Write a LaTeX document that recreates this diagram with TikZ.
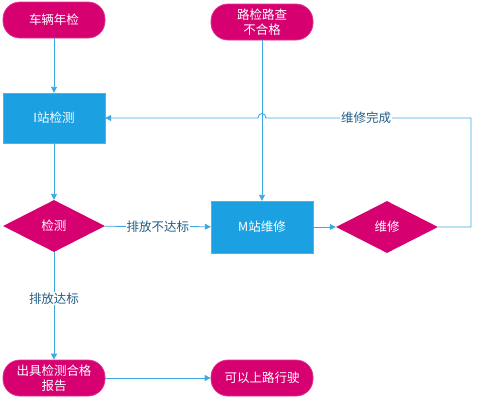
\documentclass[tikz,border=0pt]{standalone}
\usepackage{fontspec}
\setmainfont{Noto Sans CJK SC}
\usetikzlibrary{arrows.meta,shapes.geometric}
\definecolor{mag}{RGB}{214,0,112}
\definecolor{boxblue}{RGB}{27,161,226}
\definecolor{linkblue}{RGB}{60,170,225}
\definecolor{lbl}{RGB}{35,95,135}
\tikzset{
  pill/.style={draw=mag!80!white, line width=0.8pt, fill=mag, text=white, rounded corners=17pt, minimum width=102pt, minimum height=36pt, inner sep=0pt, align=center, font=\fontsize{12.5}{15}\selectfont},
  sbox/.style={draw=boxblue!80!white, fill=boxblue, text=white, minimum width=102pt, minimum height=50pt, inner sep=0pt, font=\fontsize{12.5}{15}\selectfont},
  dia/.style={diamond, fill=mag, text=white, aspect=2, minimum width=102pt, minimum height=52pt, inner sep=0pt, font=\fontsize{12.5}{15}\selectfont},
  conn/.style={draw=linkblue, line width=0.9pt, -{Triangle[width=6pt,length=6pt]}},
  lab/.style={fill=white, text=lbl, inner sep=1pt, font=\fontsize{12.5}{15}\selectfont}
}
\begin{document}
\begin{tikzpicture}[x=1pt,y=-1pt]
\useasboundingbox (0,0) rectangle (483,400);
\node[pill] (nj) at (54,20) {车辆年检};
\node[pill] (lj) at (262,22) {路检路查\\不合格};
\node[sbox] (ij) at (54,118) {I站检测};
\node[dia] (jc) at (54,226) {检测};
\node[sbox, minimum height=52pt] (mw) at (262,227) {M站维修};
\node[dia] (wx) at (387,227) {维修};
\node[pill] (bg) at (54,378) {出具检测合格\\报告};
\node[pill] (sl) at (262,378) {可以上路行驶};
\coordinate (c1) at (471,118);
\draw[conn] (nj) -- (ij);
\draw[conn] (ij) -- (jc);
\draw[conn] (lj) -- (mw);
\draw[conn] (jc) -- node[lab] {排放不达标} (mw);
\draw[conn] (mw) -- (wx);
\draw[conn] (jc) -- node[lab, pos=0.43] {排放达标} (bg);
\draw[conn] (bg) -- (sl);
\draw[conn] (wx.east) -| (c1) -- (266,118) .. controls (266,112) and (258,112) .. (258,118) -- (ij.east);
\node[lab] at (366,118) {维修完成};
\end{tikzpicture}
\end{document}
